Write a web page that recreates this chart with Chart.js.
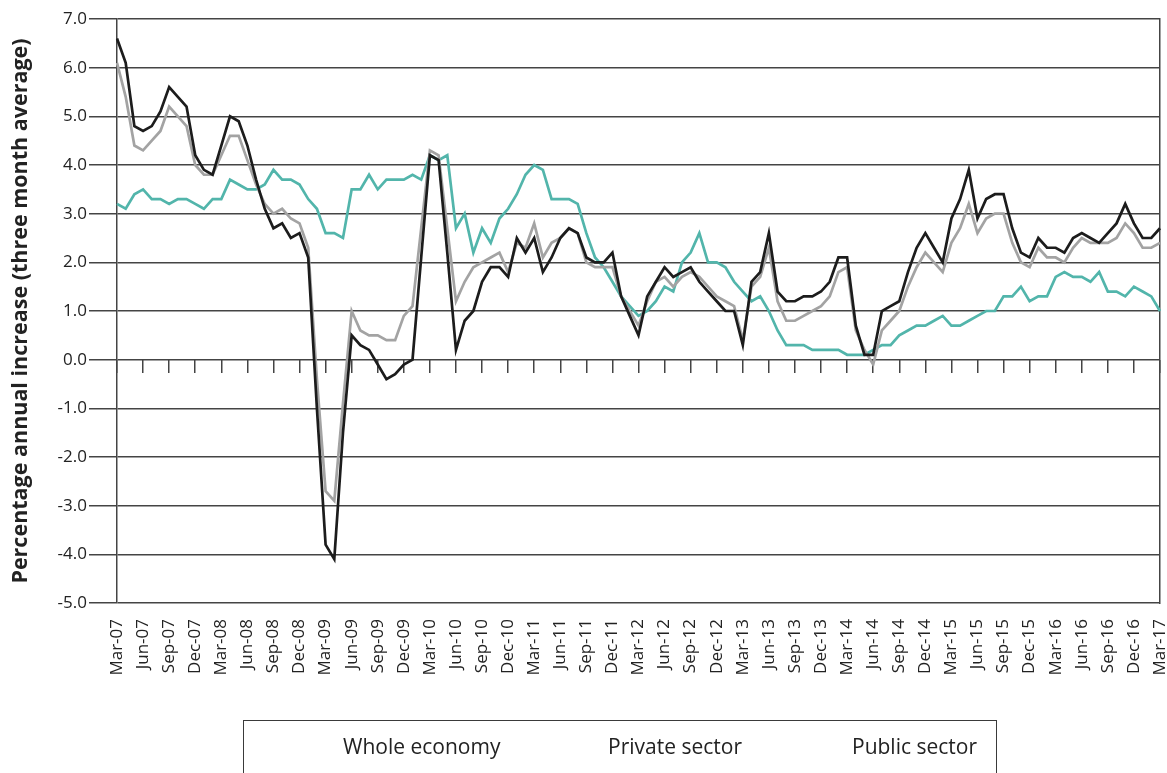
<!DOCTYPE html>
<html>
<head>
<meta charset="utf-8">
<script src="https://cdn.jsdelivr.net/npm/chart.js@4.4.0/dist/chart.umd.min.js"></script>
<style>
  html, body { margin: 0; padding: 0; background: #fff; }
  #wrap { position: relative; width: 1167px; height: 773px; overflow: hidden; }
  #legend {
    position: absolute; left: 243px; top: 720px; width: 754px; height: 90px;
    border: 1px solid #3a3a3a; box-sizing: border-box;
    font-family: "Open Sans", sans-serif; font-size: 21px; color: #222;
  }
  #legend span { position: absolute; top: 11px; white-space: nowrap; line-height: 28px; }
</style>
</head>
<body>
<div id="wrap">
  <canvas id="chart" width="1167" height="773"></canvas>
  <div id="legend">
    <span style="left:99px">Whole economy</span>
    <span style="left:364px">Private sector</span>
    <span style="left:608px">Public sector</span>
  </div>
</div>
<script>
// months shown on the axis, first point Mar-07, last Mar-17
var monthNames = ['Jan', 'Feb', 'Mar', 'Apr', 'May', 'Jun', 'Jul', 'Aug', 'Sep', 'Oct', 'Nov', 'Dec'];
var startMonth = 2, startYear = 2007, numMonths = 121;
var seriesNames = ['Whole economy', 'Private sector', 'Public sector'];
var yTitle = 'Percentage annual increase (three month average)';

var wholeEconomy = [
    6.6, 6.1, 4.8, 4.7, 4.8, 5.1, 5.6, 5.4, 5.2, 4.2, 3.9, 3.8, 4.4, 5.0, 4.9, 4.4, 3.7, 3.1, 2.7, 2.8, 2.5, 2.6, 2.1,
    -1.0, -3.8, -4.1, -1.5, 0.5, 0.3, 0.2, -0.1, -0.4, -0.3, -0.1, 0.0, 2.1, 4.2, 4.1, 2.2, 0.2, 0.8, 1.0, 1.6, 1.9, 1.9, 1.7, 2.5, 2.2,
    2.5, 1.8, 2.1, 2.5, 2.7, 2.6, 2.1, 2.0, 2.0, 2.2, 1.3, 0.9, 0.5, 1.3, 1.6, 1.9, 1.7, 1.8, 1.9, 1.6, 1.4, 1.2, 1.0, 1.0,
    0.3, 1.6, 1.8, 2.6, 1.4, 1.2, 1.2, 1.3, 1.3, 1.4, 1.6, 2.1, 2.1, 0.7, 0.1, 0.1, 1.0, 1.1, 1.2, 1.8, 2.3, 2.6, 2.3, 2.0,
    2.9, 3.3, 3.9, 2.9, 3.3, 3.4, 3.4, 2.7, 2.2, 2.1, 2.5, 2.3, 2.3, 2.2, 2.5, 2.6, 2.5, 2.4, 2.6, 2.8, 3.2, 2.8, 2.5, 2.5, 2.7
];
var privateSector = [
    6.1, 5.4, 4.4, 4.3, 4.5, 4.7, 5.2, 5.0, 4.8, 4.0, 3.8, 3.8, 4.2, 4.6, 4.6, 4.1, 3.6, 3.2, 3.0, 3.1, 2.9, 2.8, 2.3,
    -0.4, -2.7, -2.9, -0.9, 1.0, 0.6, 0.5, 0.5, 0.4, 0.4, 0.9, 1.1, 2.7, 4.3, 4.2, 2.7, 1.2, 1.6, 1.9, 2.0, 2.1, 2.2, 1.8, 2.4, 2.3,
    2.8, 2.1, 2.4, 2.5, 2.7, 2.6, 2.0, 1.9, 1.9, 1.9, 1.3, 1.0, 0.7, 1.2, 1.6, 1.7, 1.5, 1.7, 1.8, 1.7, 1.5, 1.3, 1.2, 1.1,
    0.4, 1.5, 1.7, 2.3, 1.2, 0.8, 0.8, 0.9, 1.0, 1.1, 1.3, 1.8, 1.9, 0.6, 0.2, -0.1, 0.6, 0.8, 1.0, 1.5, 1.9, 2.2, 2.0, 1.8,
    2.4, 2.7, 3.2, 2.6, 2.9, 3.0, 3.0, 2.4, 2.0, 1.9, 2.3, 2.1, 2.1, 2.0, 2.3, 2.5, 2.4, 2.4, 2.4, 2.5, 2.8, 2.6, 2.3, 2.3, 2.4
];
var publicSector = [
    3.2, 3.1, 3.4, 3.5, 3.3, 3.3, 3.2, 3.3, 3.3, 3.2, 3.1, 3.3, 3.3, 3.7, 3.6, 3.5, 3.5, 3.6, 3.9, 3.7, 3.7, 3.6, 3.3,
    3.1, 2.6, 2.6, 2.5, 3.5, 3.5, 3.8, 3.5, 3.7, 3.7, 3.7, 3.8, 3.7, 4.2, 4.1, 4.2, 2.7, 3.0, 2.2, 2.7, 2.4, 2.9, 3.1, 3.4, 3.8,
    4.0, 3.9, 3.3, 3.3, 3.3, 3.2, 2.6, 2.1, 1.9, 1.6, 1.3, 1.1, 0.9, 1.0, 1.2, 1.5, 1.4, 2.0, 2.2, 2.6, 2.0, 2.0, 1.9, 1.6,
    1.4, 1.2, 1.3, 1.0, 0.6, 0.3, 0.3, 0.3, 0.2, 0.2, 0.2, 0.2, 0.1, 0.1, 0.1, 0.2, 0.3, 0.3, 0.5, 0.6, 0.7, 0.7, 0.8, 0.9,
    0.7, 0.7, 0.8, 0.9, 1.0, 1.0, 1.3, 1.3, 1.5, 1.2, 1.3, 1.3, 1.7, 1.8, 1.7, 1.7, 1.6, 1.8, 1.4, 1.4, 1.3, 1.5, 1.4, 1.3, 1.0
];

var categories = [];
for (var i = 0; i < numMonths; i++) {
    var m = (startMonth + i) % 12;
    var yr = startYear + Math.floor((startMonth + i) / 12);
    categories.push(monthNames[m] + '-' + String(yr % 100).padStart(2, '0'));
}

var fontFamily = '"Open Sans", sans-serif';
var gridColor = '#444444';

var chart = new Chart(document.getElementById('chart'), {
    type: 'line',
    data: {
        labels: categories,
        datasets: [
            { label: seriesNames[0], data: wholeEconomy, borderColor: '#1c1c1c', borderWidth: 2.7 },
            { label: seriesNames[1], data: privateSector, borderColor: '#a3a3a3', borderWidth: 2.7 },
            { label: seriesNames[2], data: publicSector, borderColor: '#52b5ab', borderWidth: 2.7 }
        ]
    },
    options: {
        responsive: false,
        animation: false,
        devicePixelRatio: 1,
        elements: { point: { radius: 0 }, line: { tension: 0, fill: false } },
        layout: { padding: { top: 19, right: 6, bottom: 0, left: 0 } },
        plugins: { legend: { display: false }, tooltip: { enabled: false } },
        scales: {
            x: {
                type: 'category',
                position: 'bottom',
                grid: { display: false },
                border: { display: false },
                ticks: {
                    autoSkip: false, maxRotation: 90, minRotation: 90,
                    padding: 8, color: '#222',
                    font: { family: fontFamily, size: 17 },
                    callback: function (v, i) { return i % 3 === 0 ? categories[i] : ''; }
                },
                afterFit: function (s) { s.height = 170; s.paddingRight = 0; s.paddingLeft = 0; }
            },
            x0: {
                type: 'category',
                position: { y: 0 },
                ticks: { display: false, autoSkip: false },
                border: { display: false },
                grid: {
                    drawOnChartArea: false, drawTicks: true, tickLength: 13, lineWidth: 1.5,
                    color: function (c) { return c.index % 3 === 0 ? gridColor : 'rgba(0,0,0,0)'; }
                }
            },
            y: {
                min: -5, max: 7,
                ticks: {
                    stepSize: 1, padding: 2, color: '#222',
                    font: { family: fontFamily, size: 17 },
                    callback: function (v) { return v.toFixed(1); }
                },
                grid: { color: gridColor, lineWidth: 1.5, tickLength: 28 },
                border: { color: gridColor, width: 1.5 },
                title: {
                    display: true, text: yTitle, color: '#222', padding: { top: 8, bottom: 0 },
                    font: { family: fontFamily, size: 21.5, weight: 'bold' }
                },
                afterFit: function (s) { s.width = 117; }
            },
            yR: {
                position: 'right',
                min: -5, max: 7,
                ticks: { display: false },
                grid: { drawOnChartArea: false, drawTicks: false },
                border: { color: gridColor, width: 1.5 },
                afterFit: function (s) { s.width = 1; }
            }
        }
    }
});
</script>
</body>
</html>
